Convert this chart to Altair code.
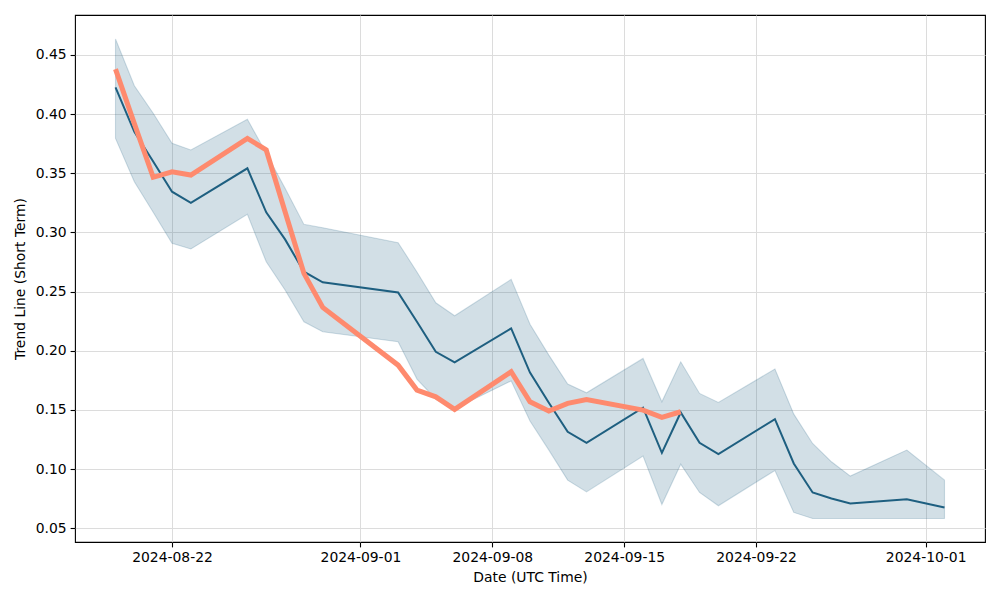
import altair as alt
import pandas as pd

# main series (mean with band)
dates = ["2024-08-19", "2024-08-20", "2024-08-21", "2024-08-22", "2024-08-23",
         "2024-08-26", "2024-08-27", "2024-08-28", "2024-08-29", "2024-08-30",
         "2024-09-03", "2024-09-04", "2024-09-05", "2024-09-06", "2024-09-09",
         "2024-09-10", "2024-09-11", "2024-09-12", "2024-09-13", "2024-09-16",
         "2024-09-17", "2024-09-18", "2024-09-19", "2024-09-20", "2024-09-23",
         "2024-09-24", "2024-09-25", "2024-09-26", "2024-09-27", "2024-09-30",
         "2024-10-02"]
mean_vals = [0.4227, 0.385, 0.360, 0.3344, 0.325,
             0.3542, 0.317, 0.2941, 0.2668, 0.2578,
             0.2493, 0.2245, 0.1991, 0.1901, 0.2189,
             0.1815, 0.156, 0.1315, 0.1221, 0.1518,
             0.1137, 0.1478, 0.1221, 0.1126, 0.1422,
             0.1047, 0.0802, 0.0751, 0.0709, 0.0745,
             0.0675]
upper_vals = [0.4635, 0.424, 0.4007, 0.3753, 0.3697,
              0.3956, 0.367, 0.3373, 0.3068, 0.304,
              0.2913, 0.2666, 0.2405, 0.2295, 0.2603,
              0.2224, 0.1963, 0.1718, 0.1644, 0.1935,
              0.1568, 0.1906, 0.1639, 0.1563, 0.1845,
              0.1464, 0.1216, 0.1061, 0.094, 0.116,
              0.0906]
lower_vals = [0.3795, 0.3429, 0.317, 0.2908, 0.286,
              0.3153, 0.2752, 0.2513, 0.2245, 0.216,
              0.2076, 0.176, 0.159, 0.151, 0.1745,
              0.1406, 0.116, 0.0906, 0.0807, 0.1109,
              0.070, 0.1041, 0.0802, 0.0689, 0.0988,
              0.0633, 0.0582, 0.0582, 0.0582, 0.0582,
              0.0582]

# highlighted (orange) series
trend_dates = ["2024-08-19", "2024-08-20", "2024-08-21", "2024-08-22", "2024-08-23",
               "2024-08-26", "2024-08-27", "2024-08-28", "2024-08-29", "2024-08-30",
               "2024-09-03", "2024-09-04", "2024-09-05", "2024-09-06", "2024-09-09",
               "2024-09-10", "2024-09-11", "2024-09-12", "2024-09-13", "2024-09-16",
               "2024-09-17", "2024-09-18"]
trend_vals = [0.438, 0.392, 0.3466, 0.3513, 0.3485,
              0.3795, 0.3697, 0.3175, 0.2654, 0.2366,
              0.1878, 0.1667, 0.161, 0.1504, 0.1822,
              0.1568, 0.149, 0.1555, 0.1588, 0.1498,
              0.1436, 0.1484]

y_ticks = [0.05, 0.10, 0.15, 0.20, 0.25, 0.30, 0.35, 0.40, 0.45]
x_ticks = [(2024, 8, 22), (2024, 9, 1), (2024, 9, 8), (2024, 9, 15), (2024, 9, 22), (2024, 10, 1)]

df = pd.DataFrame({"date": dates, "mean": mean_vals, "upper": upper_vals, "lower": lower_vals})
dft = pd.DataFrame({"date": trend_dates, "trend": trend_vals})

DARK = "#1e5f80"
ORANGE = "#fe8a6e"
FONT = "DejaVu Sans"

x_scale = alt.Scale(
    type="utc",
    domain=[alt.DateTime(year=2024, month=8, date=16, hours=20, minutes=24, utc=True),
            alt.DateTime(year=2024, month=10, date=4, hours=3, minutes=36, utc=True)],
)
y_scale = alt.Scale(domain=[0.0383, 0.4838], nice=False, zero=False)

x_axis = alt.Axis(
    title="Date (UTC Time)",
    format="%Y-%m-%d",
    values=[alt.DateTime(year=y, month=m, date=d, utc=True) for (y, m, d) in x_ticks],
    labelAngle=0,
)
y_axis = alt.Axis(title="Trend Line (Short Term)", values=y_ticks, format=".2f")

base = alt.Chart(df)

band = base.mark_area(
    fill=DARK, fillOpacity=0.2, stroke=DARK, strokeOpacity=0.2, strokeWidth=1.1
).encode(
    x=alt.X("date:T", scale=x_scale, axis=x_axis),
    y=alt.Y("lower:Q", scale=y_scale, axis=y_axis),
    y2="upper:Q",
)

mean_line = base.mark_line(color=DARK, strokeWidth=2).encode(
    x=alt.X("date:T", scale=x_scale),
    y=alt.Y("mean:Q", scale=y_scale),
)

trend_line = alt.Chart(dft).mark_line(color=ORANGE, strokeWidth=5, strokeJoin="miter").encode(
    x=alt.X("date:T", scale=x_scale),
    y=alt.Y("trend:Q", scale=y_scale),
)

chart = alt.layer(band, mean_line, trend_line).properties(
    width=910,
    height=527,
    autosize=alt.AutoSizeParams(type="none"),
    padding={"left": 67, "top": 7, "right": 7, "bottom": 50},
).configure_view(
    stroke="black", strokeWidth=1.1
).configure_axis(
    domain=False,
    grid=True,
    gridColor="#dcdcdc",
    gridWidth=1,
    ticks=True,
    tickColor="black",
    tickSize=4.9,
    tickWidth=1.1,
    labelFont=FONT,
    labelFontSize=13.9,
    labelColor="black",
    labelPadding=4,
    titleFont=FONT,
    titleFontSize=13.9,
    titleFontWeight="normal",
    titleColor="black",
).configure_axisX(
    titlePadding=6,
).configure_axisY(
    titlePadding=8,
)

chart.save("out.html", embed_options={"renderer": "svg", "actions": False})
